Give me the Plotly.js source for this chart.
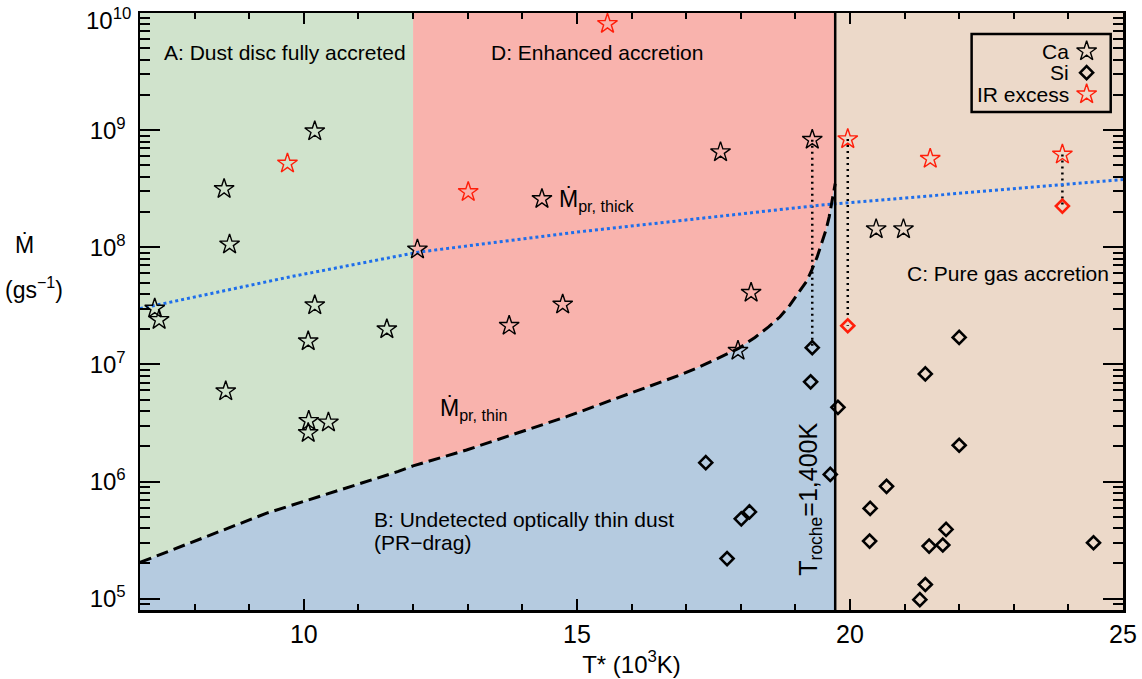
<!DOCTYPE html>
<html><head><meta charset="utf-8">
<script src="https://cdn.plot.ly/plotly-3.0.1.min.js"></script>
<style>html,body{margin:0;padding:0;background:#fff}#chart{width:1142px;height:679px}</style>
</head><body><div id="chart"></div>
<script>
// ---- data ----
const caT = [10.20, 8.54, 8.64, 12.08, 7.27, 7.35, 10.20, 11.52, 10.08, 8.57, 10.09, 10.45, 10.08, 14.36, 14.74, 13.76, 17.63, 19.31, 18.19, 17.95, 20.48, 20.98];
const caM = [9.8e8, 3.15e8, 1.06e8, 9.6e7, 3.0e7, 2.4e7, 3.2e7, 2.0e7, 1.58e7, 5.9e6, 3.3e6, 3.2e6, 2.6e6, 2.59e8, 3.25e7, 2.14e7, 6.5e8, 8.3e8, 4.1e7, 1.31e7, 1.43e8, 1.43e8];
const irT = [9.70, 13.01, 15.56, 19.96, 21.47, 23.89];
const irM = [5.2e8, 2.97e8, 8.1e9, 8.4e8, 5.7e8, 6.2e8];
const siT = [19.31, 19.28, 19.78, 19.64, 17.36, 18.16, 18.01, 17.75, 22.0, 21.38, 22.0, 20.67, 20.37, 20.36, 21.76, 21.70, 21.45, 24.46, 21.38, 21.28];
const siM = [1.39e7, 7.1e6, 4.3e6, 1.15e6, 1.45e6, 5.5e5, 4.8e5, 2.2e5, 1.7e7, 8.3e6, 2.04e6, 9.1e5, 5.9e5, 3.1e5, 3.9e5, 2.87e5, 2.81e5, 3.0e5, 1.32e5, 9.8e4];
const siIrT = [19.96, 23.89];
const siIrM = [2.14e7, 2.25e8];
// Ca/Si pairs of the same star (joined by dotted lines)
const pairT = [19.31, 19.96, 23.89];
const pairTop = [8.3e8, 8.4e8, 6.2e8];
const pairBottom = [1.39e7, 2.14e7, 2.25e8];
// Mdot_pr,thin (dashed) and Mdot_pr,thick (blue dotted)
const thinT = [7, 9.32, 11.73, 12, 12.98, 14.81, 16.89, 17.25, 17.59, 17.96, 18.26, 18.51, 18.72, 18.90, 19.05, 19.20, 19.30, 19.40, 19.48, 19.56, 19.62, 19.67, 19.73];
const thinM = [2.04e5, 5.37e5, 1.22e6, 1.36e6, 1.86e6, 3.58e6, 8.13e6, 9.55e6, 1.13e7, 1.37e7, 1.70e7, 2.09e7, 2.55e7, 3.21e7, 4.04e7, 5.07e7, 6.38e7, 8.28e7, 1.08e8, 1.40e8, 1.82e8, 2.52e8, 3.5e8];
const thickT = [7, 9.75, 12.1, 15, 19.45, 25];
const thickM = [3.0e7, 5.6e7, 9.1e7, 1.35e8, 2.29e8, 3.8e8];
const T_AD = 12;        // boundary between regions A and D
const T_ROCHE = 19.73;  // T_roche = 1,400 K
const X_RANGE = [7, 25];
const Y_RANGE = [8e4, 1.002e10];
const yTickExp = [5, 6, 7, 8, 9, 10];
const legendLabels = ['Ca', 'Si', 'IR excess'];

// ---- styles ----
const FONT = 'Liberation Sans, Arial, Helvetica, sans-serif';
const C_A = 'rgb(208,227,204)', C_D = 'rgb(249,179,173)', C_B = 'rgb(181,203,224)', C_C = 'rgb(236,217,201)';
const RED = 'rgb(255,30,10)';

const yMin = Y_RANGE[0], yMax = Y_RANGE[1];
function poly(xs, ys, color) {
  return {x: xs, y: ys, type: 'scatter', mode: 'none', fill: 'toself', fillcolor: color, hoverinfo: 'skip', showlegend: false};
}
const aIdx = thinT.map((t, i) => i).filter(i => thinT[i] <= T_AD);
const dIdx = thinT.map((t, i) => i).filter(i => thinT[i] >= T_AD);
const traces = [];
// regions
traces.push(poly([...aIdx.map(i => thinT[i]), T_AD, X_RANGE[0]], [...aIdx.map(i => thinM[i]), yMax, yMax], C_A));
traces.push(poly([...dIdx.map(i => thinT[i]), T_ROCHE, T_AD], [...dIdx.map(i => thinM[i]), yMax, yMax], C_D));
traces.push(poly([X_RANGE[0], ...thinT, T_ROCHE], [yMin, ...thinM, yMin], C_B));
traces.push(poly([T_ROCHE, X_RANGE[1], X_RANGE[1], T_ROCHE], [yMin, yMin, yMax, yMax], C_C));
// pair connectors
const px = [], py = [];
pairT.forEach((t, i) => { px.push(t, t, null); py.push(pairTop[i], pairBottom[i], null); });
traces.push({x: px, y: py, type: 'scatter', mode: 'lines', line: {color: 'black', width: 2.5, dash: '2px,4px'}});
// thick line
traces.push({x: thickT, y: thickM, type: 'scatter', mode: 'lines', line: {color: 'rgb(30,110,235)', width: 3, dash: 'dot'}});
// thin line
traces.push({x: thinT, y: thinM, type: 'scatter', mode: 'lines', line: {color: 'black', width: 3, dash: '12px,6px'}});
// Roche line
traces.push({x: [T_ROCHE, T_ROCHE], y: [yMin, yMax], type: 'scatter', mode: 'lines', line: {color: 'black', width: 2.5}});
// markers
const star = (c) => ({symbol: 'star-open', size: 15, color: c, line: {color: c, width: 1.4}});
const diam = (c) => ({symbol: 'diamond-open', size: 10, color: c, line: {color: c, width: 2.6}});
traces.push({x: siT, y: siM, type: 'scatter', mode: 'markers', marker: diam('black')});
traces.push({x: siIrT, y: siIrM, type: 'scatter', mode: 'markers', marker: diam(RED)});
traces.push({x: caT, y: caM, type: 'scatter', mode: 'markers', marker: star('black')});
traces.push({x: irT, y: irM, type: 'scatter', mode: 'markers', marker: star(RED)});

// custom legend (text left of symbol) on a hidden overlay axis
const LEG_X = 0.963, LEG_Y = [0.936, 0.900, 0.864], LEG_TX = 0.947;
traces.push({x: [LEG_X], y: [LEG_Y[0]], xaxis: 'x2', yaxis: 'y2', type: 'scatter', mode: 'markers', marker: star('black')});
traces.push({x: [LEG_X], y: [LEG_Y[1]], xaxis: 'x2', yaxis: 'y2', type: 'scatter', mode: 'markers', marker: diam('black')});
traces.push({x: [LEG_X], y: [LEG_Y[2]], xaxis: 'x2', yaxis: 'y2', type: 'scatter', mode: 'markers', marker: star(RED)});

const L = Math.log10;
const ann = (x, y, text, opts) => Object.assign({x: x, y: y, text: text, showarrow: false, yanchor: 'middle', font: {family: FONT, size: 21, color: 'black'}}, opts || {});
const annotations = [
  ann(7.40, L(4.6e9), 'A: Dust disc fully accreted', {xanchor: 'left'}),
  ann(13.39, L(4.6e9), 'D: Enhanced accretion', {xanchor: 'left'}),
  ann(24.78, L(6.0e7), 'C: Pure gas accretion', {xanchor: 'right'}),
  ann(11.25, L(4.7e5), 'B: Undetected optically thin dust', {xanchor: 'left'}),
  ann(11.25, L(3.0e5), '(PR\u2212drag)', {xanchor: 'left'}),
  ann(14.63, L(2.5e8), '\u1E40<sub>pr, thick</sub>', {xanchor: 'left', font: {family: FONT, size: 23, color: 'black'}}),
  ann(12.46, L(4.1e6), '\u1E40<sub>pr, thin</sub>', {xanchor: 'left', font: {family: FONT, size: 23, color: 'black'}}),
  ann(T_ROCHE, L(1.5e5), 'T<sub>roche</sub>=1,400K', {xanchor: 'right', yanchor: 'bottom', textangle: -90, xshift: -8, font: {family: FONT, size: 25, color: 'black'}}),
  ann(-0.117, 0.611, '\u1E40', {xref: 'paper', yref: 'paper', xanchor: 'center', font: {family: FONT, size: 23, color: 'black'}}),
  ann(-0.108, 0.540, '(gs<sup>\u22121</sup>)', {xref: 'paper', yref: 'paper', xanchor: 'center', font: {family: FONT, size: 23, color: 'black'}}),
];
legendLabels.forEach((lab, i) => annotations.push(ann(LEG_TX, LEG_Y[i], lab, {xref: 'paper', yref: 'paper', xanchor: 'right', font: {family: FONT, size: 21, color: 'black'}})));
// top decade label drawn as an annotation so that it is not clipped at the page edge
const topExp = yTickExp[yTickExp.length - 1];
annotations.push(ann(0, topExp, '10<sup>' + topExp + '</sup>', {xref: 'paper', xanchor: 'right', xshift: -7, yshift: -6, font: {family: FONT, size: 24, color: 'black'}}));

const layout = {
  width: 1142, height: 679,
  margin: {l: 140, r: 19, t: 13, b: 69},
  paper_bgcolor: 'white', plot_bgcolor: 'white',
  showlegend: false,
  font: {family: FONT, color: 'black'},
  xaxis: {
    range: X_RANGE, dtick: 5, tick0: 0, ticks: 'inside', ticklen: 11, tickwidth: 2, tickcolor: 'black',
    minor: {dtick: 1, ticks: 'inside', ticklen: 6, tickwidth: 2, tickcolor: 'black'},
    showline: true, linewidth: 2.5, linecolor: 'black', mirror: 'ticks', showgrid: false, zeroline: false,
    tickfont: {family: FONT, size: 25, color: 'black'},
    title: {text: 'T* (10<sup>3</sup>K)', font: {family: FONT, size: 24, color: 'black'}, standoff: 4}
  },
  yaxis: {
    type: 'log', range: [L(Y_RANGE[0]), L(Y_RANGE[1])],
    tickmode: 'array', tickvals: yTickExp.map(e => Math.pow(10, e)),
    ticktext: yTickExp.map((e, i) => i === yTickExp.length - 1 ? '' : '10<sup>' + e + '</sup>'),
    ticks: 'inside', ticklen: 20, tickwidth: 2, tickcolor: 'black', ticklabelstandoff: 7,
    minor: {tickmode: 'linear', dtick: 'D1', ticks: 'inside', ticklen: 10, tickwidth: 2, tickcolor: 'black'},
    showline: true, linewidth: 2.5, linecolor: 'black', mirror: 'ticks', showgrid: false, zeroline: false,
    tickfont: {family: FONT, size: 24, color: 'black'}
  },
  xaxis2: {overlaying: 'x', range: [0, 1], visible: false, fixedrange: true},
  yaxis2: {overlaying: 'y', range: [0, 1], visible: false, fixedrange: true},
  shapes: [{type: 'rect', xref: 'paper', yref: 'paper', x0: 0.846, x1: 0.9875, y0: 0.834, y1: 0.965, line: {color: 'black', width: 2.5}, fillcolor: 'rgba(0,0,0,0)', layer: 'above'}],
  annotations: annotations
};
traces.forEach(t => { if (!('showlegend' in t)) t.showlegend = false; if (!t.hoverinfo) t.hoverinfo = 'skip'; });
Plotly.newPlot('chart', traces, layout, {staticPlot: true});
</script>
</body></html>
